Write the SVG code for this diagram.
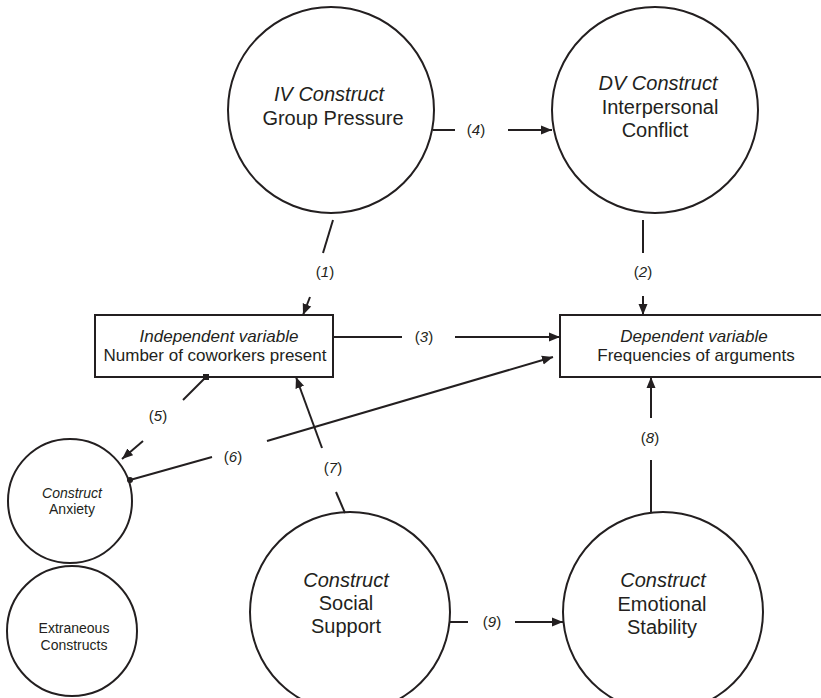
<svg xmlns="http://www.w3.org/2000/svg" width="821" height="698" viewBox="0 0 821 698">
<style>
.ln{stroke:#231f20;stroke-width:2;fill:none}
.nd{stroke:#231f20;stroke-width:2;fill:#fff}
text{font-family:"Liberation Sans",Arial,sans-serif;fill:#231f20;text-anchor:middle}
.big{font-size:20px}
.mid{font-size:17px}
.sm{font-size:14px}
.lab{font-size:15px}
.it{font-style:italic}
</style>
<defs>
<marker id="ah" markerUnits="userSpaceOnUse" markerWidth="12" markerHeight="10" refX="11" refY="5" orient="auto">
<path d="M0,0.5 L11,5 L0,9.5 Z" fill="#231f20"/>
</marker>
</defs>
<rect width="821" height="698" fill="#fff"/>

<!-- nodes -->
<g id="iv-construct">
<circle class="nd" cx="331" cy="110" r="103"/>
<text class="big it" x="329" y="101">IV Construct</text>
<text class="big" x="333" y="125">Group Pressure</text>
</g>
<g id="dv-construct">
<circle class="nd" cx="655" cy="110" r="103"/>
<text class="big it" x="658" y="90">DV Construct</text>
<text class="big" x="660" y="114">Interpersonal</text>
<text class="big" x="655" y="137">Conflict</text>
</g>
<g id="independent-variable">
<rect class="nd" x="95" y="315" width="238" height="62"/>
<text class="mid it" x="219" y="342">Independent variable</text>
<text class="mid" x="215" y="361">Number of coworkers present</text>
</g>
<g id="dependent-variable">
<rect class="nd" x="560" y="315" width="272" height="62"/>
<text class="mid it" x="694" y="342">Dependent variable</text>
<text class="mid" x="696" y="361">Frequencies of arguments</text>
</g>
<g id="anxiety">
<circle class="nd" cx="70" cy="501" r="62"/>
<text class="sm it" x="72" y="498">Construct</text>
<text class="sm" x="72" y="514">Anxiety</text>
</g>
<g id="extraneous">
<circle class="nd" cx="72" cy="631" r="65"/>
<text class="sm" x="74" y="633">Extraneous</text>
<text class="sm" x="74" y="650">Constructs</text>
</g>
<g id="social-support">
<circle class="nd" cx="350" cy="612" r="100"/>
<text class="big it" x="346" y="587">Construct</text>
<text class="big" x="346" y="610">Social</text>
<text class="big" x="346" y="633">Support</text>
</g>
<g id="emotional-stability">
<circle class="nd" cx="663" cy="612" r="100"/>
<text class="big it" x="663" y="587">Construct</text>
<text class="big" x="662" y="611">Emotional</text>
<text class="big" x="662" y="634">Stability</text>
</g>

<!-- connectors -->
<g id="connectors">
<line class="ln" x1="433" y1="130" x2="455" y2="130"/>
<line class="ln" x1="508" y1="130" x2="552" y2="130" marker-end="url(#ah)"/>
<line class="ln" x1="333" y1="220" x2="323" y2="253"/>
<line class="ln" x1="310" y1="297" x2="303" y2="315" marker-end="url(#ah)"/>
<line class="ln" x1="643" y1="220" x2="643" y2="253"/>
<line class="ln" x1="643" y1="296" x2="643" y2="315" marker-end="url(#ah)"/>
<line class="ln" x1="333" y1="337" x2="402" y2="337"/>
<line class="ln" x1="455" y1="337" x2="560" y2="337" marker-end="url(#ah)"/>
<rect x="203" y="374" width="6" height="6" fill="#231f20"/>
<line class="ln" x1="206" y1="377" x2="183" y2="400"/>
<line class="ln" x1="143" y1="441" x2="122" y2="459" marker-end="url(#ah)"/>
<circle cx="130" cy="480" r="3" fill="#231f20"/>
<line class="ln" x1="130" y1="480" x2="212" y2="457"/>
<line class="ln" x1="267" y1="441" x2="553" y2="357" marker-end="url(#ah)"/>
<line class="ln" x1="345" y1="513" x2="336" y2="492"/>
<line class="ln" x1="322" y1="448" x2="296" y2="377" marker-end="url(#ah)"/>
<line class="ln" x1="651" y1="513" x2="651" y2="460"/>
<line class="ln" x1="651" y1="418" x2="651" y2="377" marker-end="url(#ah)"/>
<line class="ln" x1="450" y1="622" x2="468" y2="622"/>
<line class="ln" x1="515" y1="622" x2="563" y2="622" marker-end="url(#ah)"/>
<text class="lab" x="476" y="135">(<tspan class="it">4</tspan>)</text>
<text class="lab" x="325" y="277">(<tspan class="it">1</tspan>)</text>
<text class="lab" x="643" y="277">(<tspan class="it">2</tspan>)</text>
<text class="lab" x="424" y="342">(<tspan class="it">3</tspan>)</text>
<text class="lab" x="158" y="421">(<tspan class="it">5</tspan>)</text>
<text class="lab" x="233" y="462">(<tspan class="it">6</tspan>)</text>
<text class="lab" x="333" y="473">(<tspan class="it">7</tspan>)</text>
<text class="lab" x="650" y="443">(<tspan class="it">8</tspan>)</text>
<text class="lab" x="492" y="627">(<tspan class="it">9</tspan>)</text>
</g>
</svg>
